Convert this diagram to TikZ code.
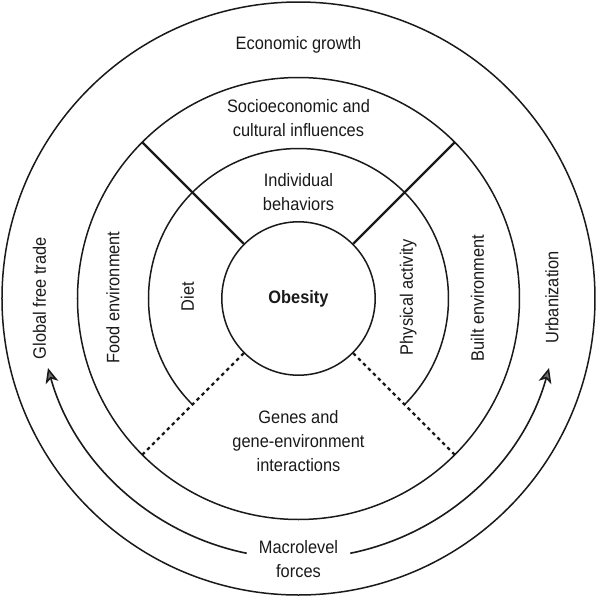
\documentclass[tikz,border=0pt]{standalone}
\usepackage{fontspec}
\setmainfont{Liberation Sans}[FakeStretch=0.91]
\usetikzlibrary{arrows.meta}
\definecolor{ink}{HTML}{1A1A1A}
\definecolor{tipgray}{HTML}{707070}
\tikzset{
  ring/.style={draw=ink, line width=1.5pt},
  spoke/.style={draw=ink, line width=2.2pt},
  dspoke/.style={draw=ink, line width=2.2pt, dash pattern=on 3.5pt off 3.5pt},
  lbl/.style={text=ink, font=\fontsize{18}{24}\selectfont, align=center, anchor=base, inner sep=0pt},
  vlbl/.style={lbl, rotate=90},
  arr/.style={draw=ink, line width=1.6pt, -{Stealth[length=15pt,width=13pt,inset=4pt,fill=tipgray]}}
}
\begin{document}
\begin{tikzpicture}[x=1pt,y=1pt]
\useasboundingbox[fill=white] (-298.5,-299.5) rectangle (298.5,298.5);
% rings
\draw[ring] (0,0) circle[radius=296.5];
\draw[ring] (0,0) circle[radius=221];
\coordinate (dA) at (-45:150);
\draw[ring] (dA) arc[start angle=-45, end angle=225, radius=150];
\node[ring, circle, minimum size=153.4pt, inner sep=0pt, text=ink,
      font=\fontsize{18}{24}\selectfont\bfseries] (obesity) at (0,0) {Obesity};
% spokes
\coordinate (s45) at (45:221);
\coordinate (s135) at (135:221);
\coordinate (s225) at (225:221);
\coordinate (s315) at (315:221);
\draw[spoke] (obesity.45) -- (s45);
\draw[spoke] (obesity.135) -- (s135);
\draw[dspoke] (obesity.225) -- (s225);
\draw[dspoke] (obesity.315) -- (s315);
% arrows
\coordinate (la) at (258.5:260);
\coordinate (ra) at (281.5:260);
\draw[arr] (la) arc[start angle=258.5, end angle=195.5, radius=260];
\draw[arr] (ra) arc[start angle=281.5, end angle=344.5, radius=260];
% labels (base = baseline of last line)
\node[lbl] (econ) at (0,249.5) {Economic growth};
\node[lbl] (socio) at (0,161.8) {Socioeconomic and\\cultural influences};
\node[lbl] (indiv) at (0,88.5) {Individual\\behaviors};
\node[lbl] (genes) at (0,-173.2) {Genes and\\gene-environment\\interactions};
\node[lbl] (macro) at (0,-278.8) {Macrolevel\\forces};
\node[vlbl] (trade) at (-252.5,0.2) {Global free trade};
\node[vlbl] (food) at (-179.2,1) {Food environment};
\node[vlbl] (diet) at (-104.5,1.8) {Diet};
\node[vlbl] (phys) at (114.5,1.2) {Physical activity};
\node[vlbl] (built) at (185.5,0.5) {Built environment};
\node[vlbl] (urban) at (259.8,1) {Urbanization};
\end{tikzpicture}
\end{document}
